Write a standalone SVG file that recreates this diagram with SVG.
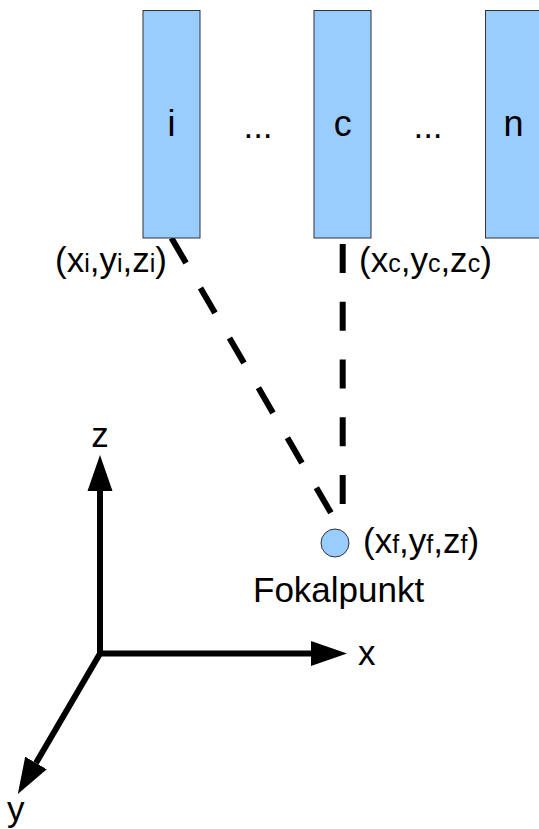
<svg xmlns="http://www.w3.org/2000/svg" width="539" height="829" viewBox="0 0 539 829">
<style>
.t{font-family:"Liberation Sans",Arial,sans-serif;font-size:35px;fill:#000}
.b{font-size:36px}
.s{font-size:25px}
.box{fill:#99ccff;stroke:#333;stroke-width:1}
.dash{stroke:#000;stroke-width:6;fill:none;stroke-dasharray:29 28.75}
.axis{stroke:#000;stroke-width:6;fill:none}
</style>
<defs>
<marker id="ah" markerUnits="userSpaceOnUse" markerWidth="36" markerHeight="26" refX="0" refY="12.5" orient="auto" viewBox="0 0 36 25">
<path d="M0,0 L36,12.5 L0,25 Z" fill="#000"/>
</marker>
</defs>
<rect width="539" height="829" fill="#fff"/>
<g id="connectors">
<line class="dash" x1="171.5" y1="238" x2="331" y2="513"/>
<line class="dash" x1="342.7" y1="244" x2="342.7" y2="504"/>
</g>
<g id="node-i">
<rect class="box" x="143" y="10.5" width="57" height="227.5"/>
<text class="t b" x="171.5" y="136" text-anchor="middle">i</text>
</g>
<g id="dots-1"><text class="t" x="258" y="138" text-anchor="middle">...</text></g>
<g id="node-c">
<rect class="box" x="314" y="10.5" width="57" height="227.5"/>
<text class="t b" x="342.7" y="136" text-anchor="middle">c</text>
</g>
<g id="dots-2"><text class="t" x="428" y="138" text-anchor="middle">...</text></g>
<g id="node-n">
<rect class="box" x="485.5" y="10.5" width="57" height="227.5"/>
<text class="t b" x="513.5" y="136" text-anchor="middle">n</text>
</g>
<g id="label-i"><text class="t" x="55" y="272">(x<tspan class="s">i</tspan>,y<tspan class="s">i</tspan>,z<tspan class="s">i</tspan>)</text></g>
<g id="label-c"><text class="t" x="359" y="272">(x<tspan class="s">c</tspan>,y<tspan class="s">c</tspan>,z<tspan class="s">c</tspan>)</text></g>
<g id="focal">
<circle cx="335" cy="543" r="14" fill="#99ccff" stroke="#333" stroke-width="1"/>
<text class="t" x="363" y="553">(x<tspan class="s">f</tspan>,y<tspan class="s">f</tspan>,z<tspan class="s">f</tspan>)</text>
<text class="t" x="253" y="602">Fokalpunkt</text>
</g>
<g id="axes">
<line class="axis" x1="100" y1="656" x2="100" y2="491" marker-end="url(#ah)"/>
<line class="axis" x1="97" y1="653.5" x2="311" y2="653.5" marker-end="url(#ah)"/>
<line class="axis" x1="101.5" y1="651" x2="36" y2="763" marker-end="url(#ah)"/>
<text class="t" x="100" y="447" text-anchor="middle">z</text>
<text class="t" x="358" y="665">x</text>
<text class="t" x="7" y="821">y</text>
</g>
</svg>
